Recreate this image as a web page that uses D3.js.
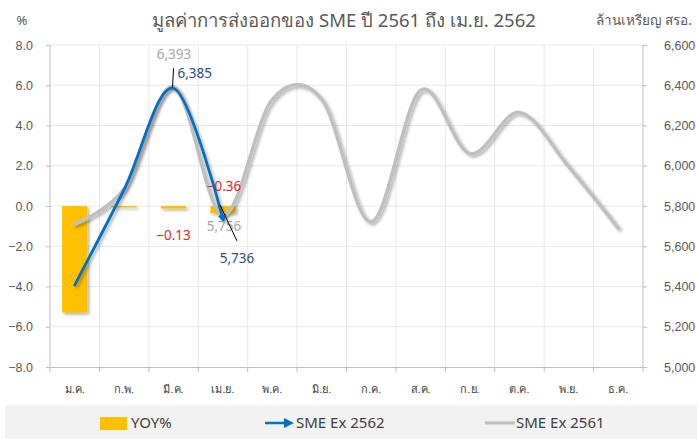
<!DOCTYPE html>
<html><head><meta charset="utf-8">
<script src="https://cdn.jsdelivr.net/npm/d3@7/dist/d3.min.js"></script>
<style>
body{margin:0;background:#fff;}
svg{display:block;font-family:"Noto Sans","DejaVu Sans",sans-serif;}
</style></head><body>
<svg id="c" width="697" height="439"></svg>
<script>
const months = ["ม.ค.","ก.พ.","มี.ค.","เม.ย.","พ.ค.","มิ.ย.","ก.ค.","ส.ค.","ก.ย.","ต.ค.","พ.ย.","ธ.ค."];
const yoy = [-5.3, -0.05, -0.13, -0.36];
const sme2562 = [5407, 5882, 6385, 5736];
const sme2561 = [5710, 5885, 6393, 5756, 6330, 6330, 5722, 6375, 6060, 6265, 5995, 5690];
const leftTicks = [-8, -6, -4, -2, 0, 2, 4, 6, 8];
const rightTicks = [5000, 5200, 5400, 5600, 5800, 6000, 6200, 6400, 6600];
const title = "มูลค่าการส่งออกของ SME ปี 2561 ถึง เม.ย. 2562";

const svg = d3.select("#c");
const L = 50, R = 643, T = 45, B = 367;
const x = d3.scaleBand().domain(months).range([L, R]);
const yL = d3.scaleLinear().domain([-8, 8]).range([B, T]);
const yR = d3.scaleLinear().domain([5000, 6600]).range([B, T]);
const cx = m => x(m) + x.bandwidth() / 2;

const defs = svg.append("defs");
const f = defs.append("filter").attr("id","sh").attr("x","-20%").attr("y","-20%").attr("width","140%").attr("height","140%");
f.append("feDropShadow").attr("dx",2).attr("dy",2).attr("stdDeviation",1.5).attr("flood-color","#000").attr("flood-opacity",0.3);
defs.append("marker").attr("id","arr").attr("viewBox","0 0 10 10").attr("refX",5).attr("refY",5)
  .attr("markerWidth",3).attr("markerHeight",3).attr("orient","auto")
  .append("path").attr("d","M0,0 L10,5 L0,10 z").attr("fill","#0070C0");
defs.append("marker").attr("id","arrL").attr("viewBox","0 0 10 10").attr("refX",5).attr("refY",5)
  .attr("markerWidth",4).attr("markerHeight",4).attr("orient","auto")
  .append("path").attr("d","M0,0 L10,5 L0,10 z").attr("fill","#0070C0");

// gridlines
svg.append("g").selectAll("line").data(leftTicks.filter(d=>d!==-8)).join("line")
  .attr("x1",L).attr("x2",R).attr("y1",d=>yL(d)).attr("y2",d=>yL(d))
  .attr("stroke","#E8E8E8").attr("stroke-width",1);
svg.append("g").selectAll("line").data(months.slice(1)).join("line")
  .attr("x1",d=>x(d)).attr("x2",d=>x(d)).attr("y1",T).attr("y2",B)
  .attr("stroke","#E8E8E8").attr("stroke-width",1);

// axes
const axL = svg.append("g").attr("transform",`translate(${L},0)`)
  .call(d3.axisLeft(yL).tickValues(leftTicks).tickFormat(d3.format(".1f")).tickSize(4).tickPadding(13));
const axR = svg.append("g").attr("transform",`translate(${R},0)`)
  .call(d3.axisRight(yR).tickValues(rightTicks).tickFormat(d3.format(",")).tickSize(4).tickPadding(17));
const axB = svg.append("g").attr("transform",`translate(0,${B})`)
  .call(d3.axisBottom(x).tickSize(0).tickPadding(18));
[axL, axR].forEach(a=>{
  a.select(".domain").attr("stroke","#BFBFBF");
  a.selectAll(".tick line").attr("stroke","#BFBFBF");
  a.selectAll("text").attr("fill","#595959").attr("font-size",12.5);
});
axB.select(".domain").attr("stroke","#BFBFBF");
axB.selectAll("text").attr("fill","#404040").attr("font-size",11);
// category boundary ticks
svg.append("g").selectAll("line").data(d3.range(months.length+1)).join("line")
  .attr("x1",i=>L + i*x.step()).attr("x2",i=>L + i*x.step()).attr("y1",B).attr("y2",B+5)
  .attr("stroke","#BFBFBF");
axL.select(".domain").attr("d",`M0,${T}V${B}`);
axR.select(".domain").attr("d",`M0,${T}V${B}`);

// bars
const bw = x.bandwidth()*0.51;
svg.append("g").attr("filter","url(#sh)").selectAll("rect").data(yoy).join("rect")
  .attr("x",(d,i)=>cx(months[i]) - bw/2)
  .attr("y",d=>yL(Math.max(0,d)))
  .attr("width",bw)
  .attr("height",d=>Math.max(1.5, Math.abs(yL(d)-yL(0))))
  .attr("fill","#FFC000");

// lines
const line = d3.line().x((d,i)=>cx(months[i])).y(d=>yR(d)).curve(d3.curveCardinal.tension(0));
svg.append("path").datum(sme2561).attr("d",line).attr("fill","none")
  .attr("stroke","#BFBFBF").attr("stroke-width",3.5).attr("stroke-linecap","round").attr("filter","url(#sh)");
svg.append("path").datum(sme2562).attr("d",line).attr("fill","none")
  .attr("stroke","#0070C0").attr("stroke-width",2.8).attr("stroke-linecap","round")
  .attr("marker-end","url(#arr)").attr("filter","url(#sh)");

// data labels
const lab = (t, xx, yy, col, anchor="middle") => svg.append("text").text(t).attr("x",xx).attr("y",yy)
  .attr("fill",col).attr("font-size",13.5).attr("text-anchor",anchor);
const fmt = d3.format(",");
const mar = months[2], apr = months[3];
lab(fmt(sme2561[2]), cx(mar)+0.5, yR(sme2561[2])-28, "#A6A6A6");
lab(fmt(sme2562[2]), cx(mar)+4, yR(sme2562[2])-10, "#2F4A8C", "start");
svg.append("line").attr("x1",cx(mar)-1).attr("y1",yR(sme2562[2])-1).attr("x2",cx(mar)).attr("y2",yR(sme2562[2])-20)
  .attr("stroke","#000").attr("stroke-width",1);
lab(d3.format(".2f")(yoy[2]).replace("-","−"), cx(mar), yL(yoy[2])+31, "#E8262A");
lab(d3.format(".2f")(yoy[3]).replace("-","−"), cx(apr)+1, yL(0)-15, "#E8262A");
lab(fmt(sme2561[3]), cx(apr)+1, yR(sme2561[3])+16, "#A6A6A6");
lab(fmt(sme2562[3]), cx(apr)+14, yR(sme2562[3])+44, "#2F4A8C");
svg.append("line").attr("x1",cx(apr)-3).attr("y1",yR(sme2562[3])-14).attr("x2",cx(apr)+14).attr("y2",yR(sme2562[3])+22)
  .attr("stroke","#000").attr("stroke-width",1);

// titles
svg.append("text").text(title).attr("x",344).attr("y",27).attr("text-anchor","middle")
  .attr("font-size",18.5).attr("fill","#595959");
svg.append("text").text("%").attr("x",22).attr("y",25).attr("text-anchor","middle")
  .attr("font-size",13).attr("fill","#595959");
svg.append("text").text("ล้านเหรียญ สรอ.").attr("x",692).attr("y",25).attr("text-anchor","end")
  .attr("font-size",13.5).attr("fill","#595959");

// legend
svg.append("rect").attr("x",5).attr("y",405).attr("width",692).attr("height",34).attr("fill","#F2F2F2");
const lg = svg.append("g");
lg.append("rect").attr("x",100).attr("y",417).attr("width",27).attr("height",13).attr("fill","#FFC000");
lg.append("text").text("YOY%").attr("x",131).attr("y",428).attr("font-size",15).attr("fill","#404040");
lg.append("line").attr("x1",265).attr("x2",289).attr("y1",423).attr("y2",423).attr("stroke","#0070C0").attr("stroke-width",2.5).attr("marker-end","url(#arrL)");
lg.append("text").text("SME Ex 2562").attr("x",296).attr("y",428).attr("font-size",15).attr("fill","#404040");
lg.append("line").attr("x1",485).attr("x2",515).attr("y1",423).attr("y2",423).attr("stroke","#BFBFBF").attr("stroke-width",3);
lg.append("text").text("SME Ex 2561").attr("x",516).attr("y",428).attr("font-size",15).attr("fill","#404040");
</script></body></html>
